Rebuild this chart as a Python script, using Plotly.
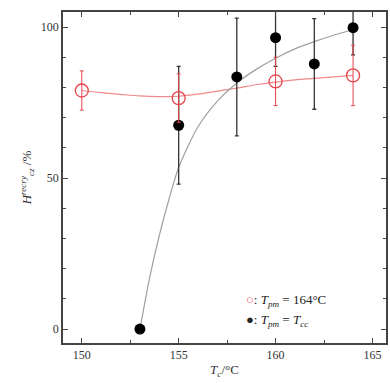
import plotly.graph_objects as go

# Data
red_x = [150, 155, 160, 164]
red_y = [79, 76.5, 82, 84]
red_err = [6.5, 8, 8, 10]

blk_x = [153, 155, 158, 160, 162, 164]
blk_y = [0, 67.5, 83.5, 96.5, 87.8, 99.8]
blk_err = [0, 19.5, 19.5, 9.5, 15, 9]

red_fit_x = [150, 151, 152, 153, 154, 155, 156, 157, 158, 159, 160, 161, 162, 163, 164]
red_fit_y = [79, 78.3, 77.7, 77.2, 77.0, 77.1, 77.8, 78.8, 79.8, 80.9, 81.8, 82.5, 83.0, 83.5, 84.0]

gray_fit_x = [153, 153.5, 154, 154.5, 155, 156, 157, 158, 159, 160, 161, 162, 163, 164]
gray_fit_y = [0, 17, 31, 43, 53.5, 67, 75.5, 81.5, 86, 89.7, 92.8, 95.2, 97.3, 99.2]

FONT = "Liberation Serif"
RED = "#e8444a"

fig = go.Figure()
fig.add_trace(go.Scatter(x=red_fit_x, y=red_fit_y, mode="lines", line=dict(color="#f08a8a", width=1.2, shape="spline"),
                         showlegend=False, hoverinfo="skip"))
fig.add_trace(go.Scatter(x=gray_fit_x, y=gray_fit_y, mode="lines", line=dict(color="#a0a0a0", width=1.2, shape="spline", smoothing=0.8),
                         showlegend=False, hoverinfo="skip"))
fig.add_trace(go.Scatter(x=blk_x, y=blk_y, mode="markers",
                         marker=dict(symbol="circle", size=11, color="black"),
                         error_y=dict(type="data", array=blk_err, color="#333333", thickness=1.3, width=2),
                         showlegend=False))
fig.add_trace(go.Scatter(x=red_x, y=red_y, mode="markers",
                         marker=dict(symbol="circle-open", size=13, color=RED, line=dict(width=1.3)),
                         error_y=dict(type="data", array=red_err, color=RED, thickness=1.0, width=2),
                         showlegend=False))

axis_common = dict(showline=True, linecolor="#444444", linewidth=1.5, mirror="ticks", ticks="inside",
                   ticklen=5, tickcolor="#444444", tickwidth=1, showgrid=False, zeroline=False,
                   tickfont=dict(family=FONT, size=12, color="#333333"))

fig.update_xaxes(range=[149.03, 165.7], tickvals=[150, 155, 160, 165],
                 minor=dict(dtick=2.5, tick0=150, ticks="inside", ticklen=3, tickcolor="#444444", showgrid=False),
                 title=dict(text="<i>T</i><sub><i>c</i></sub>/°C", font=dict(family=FONT, size=13, color="#333333"), standoff=4),
                 **axis_common)
fig.update_yaxes(range=[-4.6, 105], tickvals=[0, 50, 100],
                 minor=dict(dtick=10, tick0=0, ticks="inside", ticklen=3, tickcolor="#444444", showgrid=False),
                 title=dict(text="<i>H</i><sup><i>recry</i></sup><sub><i>cz</i></sub> /%", font=dict(family=FONT, size=13, color="#333333"), standoff=6),
                 **axis_common)

fig.add_annotation(xref="paper", yref="paper", x=0.56, y=0.127, xanchor="left", yanchor="middle", showarrow=False,
                   text=f"<span style='color:{RED}'>○</span>: <i>T</i><sub><i>pm</i></sub> = 164°C",
                   font=dict(family=FONT, size=13, color="#222222"))
fig.add_annotation(xref="paper", yref="paper", x=0.56, y=0.069, xanchor="left", yanchor="middle", showarrow=False,
                   text="●: <i>T</i><sub><i>pm</i></sub> = <i>T</i><sub><i>cc</i></sub>",
                   font=dict(family=FONT, size=13, color="#222222"))

fig.update_layout(width=390, height=383, margin=dict(l=63, r=2, t=12, b=40),
                  paper_bgcolor="white", plot_bgcolor="white")

fig.write_html("out.html")
